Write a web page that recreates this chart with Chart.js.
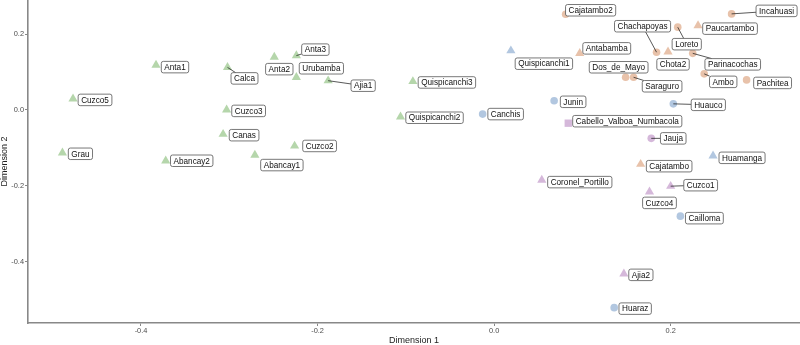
<!DOCTYPE html>
<html><head><meta charset="utf-8">
<script src="https://cdn.jsdelivr.net/npm/chart.js@4"></script>
<style>html,body{margin:0;padding:0;background:#fff}#wrap{width:800px;height:345px;position:relative}</style>
</head><body><div id="wrap"><canvas id="c"></canvas></div>
<script>
// ---- data ----
const sites = ["Cuzco5","Grau","Anta1","Calca","Cuzco3","Canas","Abancay2","Abancay1","Anta2","Anta3","Urubamba","Ajia1","Quispicanchi3","Quispicanchi2","Cuzco2",
  "Canchis","Quispicanchi1","Junin","Huauco","Huamanga","Cailloma","Huaraz",
  "Cabello_Valboa_Numbacola","Jauja","Coronel_Portillo","Cuzco4","Cuzco1","Ajia2",
  "Cajatambo2","Incahuasi","Paucartambo","Loreto","Chachapoyas","Chota2","Antabamba","Parinacochas","Dos_de_Mayo","Saraguro","Ambo","Pachitea","Cajatambo"];
const dim1 = [-0.477,-0.489,-0.383,-0.302,-0.303,-0.307,-0.372,-0.271,-0.249,-0.224,-0.224,-0.188,-0.092,-0.106,-0.226,
  -0.013,0.019,0.068,0.203,0.248,0.211,0.136,
  0.084,0.178,0.054,0.176,0.200,0.147,
  0.081,0.269,0.231,0.208,0.184,0.197,0.097,0.225,0.149,0.158,0.238,0.286,0.166];
const dim2 = [0.029,-0.113,0.118,0.112,0.000,-0.064,-0.134,-0.119,0.139,0.143,0.086,0.077,0.075,-0.018,-0.095,
  -0.011,0.156,0.024,0.016,-0.121,-0.280,-0.521,
  -0.035,-0.075,-0.185,-0.216,-0.201,-0.432,
  0.252,0.253,0.222,0.218,0.152,0.153,0.149,0.149,0.086,0.086,0.095,0.079,-0.143];
const groups = ["G1","G1","G1","G1","G1","G1","G1","G1","G1","G1","G1","G1","G1","G1","G1",
  "G2","G2","G2","G2","G2","G2","G2",
  "G3","G3","G3","G3","G3","G3",
  "G4","G4","G4","G4","G4","G4","G4","G4","G4","G4","G4","G4","G4"];
const shapes = ["triangle","triangle","triangle","triangle","triangle","triangle","triangle","triangle","triangle","triangle","triangle","triangle","triangle","triangle","triangle",
  "circle","triangle","circle","circle","triangle","circle","circle",
  "square","circle","triangle","triangle","triangle","triangle",
  "circle","circle","triangle","circle","circle","triangle","triangle","circle","circle","circle","circle","circle","triangle"];
const xTicks = [-0.4,-0.2,0.0,0.2];
const yTicks = [-0.4,-0.2,0.0,0.2];
const xTitle = "Dimension 1";
const yTitle = "Dimension 2";

// ---- style / layout ----
const groupColor = {G1:"#b5d6ab", G2:"#b2c7e0", G3:"#d5b8da", G4:"#e8c2aa"};
const shapeStyle = {triangle:["triangle",5.3], circle:["circle",3.8], square:["rect",5.2]};
// label box offsets (px) relative to point
const labelOffset = {
  Cuzco5:[22,1], Grau:[18,1], Anta1:[19,2], Calca:[17,11], Cuzco3:[22,1], Canas:[21,1], Abancay2:[26,0], Abancay1:[27,10],
  Anta2:[5,12], Anta3:[19,-6], Urubamba:[25,-9], Ajia1:[35,5], Quispicanchi3:[34,1], Quispicanchi2:[34,1], Cuzco2:[25,0],
  Canchis:[23,0], Quispicanchi1:[33,13], Junin:[19,1], Huauco:[35,1], Huamanga:[29,2], Cailloma:[24,2], Huaraz:[21,1],
  Cabello_Valboa_Numbacola:[59,-2], Jauja:[22,0], Coronel_Portillo:[38,2], Cuzco4:[10,11], Cuzco1:[30,-1], Ajia2:[17,1],
  Cajatambo2:[25,-4], Incahuasi:[45,-3], Paucartambo:[32,3], Loreto:[9,17], Chachapoyas:[-14,-26], Chota2:[5,12.5],
  Antabamba:[27,-5], Parinacochas:[40,11], Dos_de_Mayo:[-7,-10], Saraguro:[28.5,9], Ambo:[19,8], Pachitea:[26,3], Cajatambo:[28.5,2]
};
const leaders = new Set(["Calca","Anta3","Ajia1","Huauco","Jauja","Cuzco1","Incahuasi","Loreto","Chachapoyas","Parinacochas","Saraguro","Ambo"]);

const groupOrder = ["G1","G2","G3","G4"];
const datasets = groupOrder.map(g => {
  const idx = sites.map((s,i)=>i).filter(i=>groups[i]===g);
  return {
    label: g,
    data: idx.map(i=>({x:dim1[i], y:dim2[i], name:sites[i]})),
    pointStyle: idx.map(i=>shapeStyle[shapes[i]][0]),
    pointRadius: idx.map(i=>shapeStyle[shapes[i]][1]),
    backgroundColor: groupColor[g],
    borderWidth: 0,
    pointBorderWidth: 0
  };
});

const labelPlugin = {
  id: "repelLabels",
  afterDatasetsDraw(chart) {
    const ctx = chart.ctx, xs = chart.scales.x, ys = chart.scales.y;
    ctx.save();
    ctx.font = '8.2px "Liberation Sans", Arial, sans-serif';
    const boxes = sites.map((name,i) => {
      const px = xs.getPixelForValue(dim1[i]), py = ys.getPixelForValue(dim2[i]);
      const off = labelOffset[name] || [20,0];
      const cx = px + off[0], cy = py + off[1];
      const w = ctx.measureText(name).width + 6, h = 11.5;
      return {name, px, py, cx, cy, w, h};
    });
    // leaders
    ctx.strokeStyle = "#111"; ctx.lineWidth = 0.7;
    boxes.forEach(b => {
      if (!leaders.has(b.name)) return;
      const dx = b.px - b.cx, dy = b.py - b.cy;
      const t = Math.min(dx ? (b.w/2)/Math.abs(dx) : Infinity, dy ? (b.h/2)/Math.abs(dy) : Infinity);
      const ex = b.cx + dx*t, ey = b.cy + dy*t;
      ctx.beginPath(); ctx.moveTo(b.px, b.py); ctx.lineTo(ex, ey); ctx.stroke();
    });
    // boxes
    boxes.forEach(b => {
      const x0 = b.cx - b.w/2, y0 = b.cy - b.h/2;
      ctx.beginPath();
      ctx.roundRect(x0, y0, b.w, b.h, 2);
      ctx.fillStyle = "#fff"; ctx.fill();
      ctx.strokeStyle = "#555"; ctx.lineWidth = 0.8; ctx.stroke();
      ctx.fillStyle = "#111"; ctx.textAlign = "center"; ctx.textBaseline = "middle";
      ctx.fillText(b.name, b.cx, b.cy + 0.5);
    });
    ctx.restore();
  }
};

const tickFmt = v => (Math.abs(v) < 1e-9 ? "0.0" : v.toFixed(1));

new Chart(document.getElementById("c"), {
  type: "scatter",
  data: { datasets },
  options: {
    responsive: true, maintainAspectRatio: false, animation: false,
    layout: { padding: 0, autoPadding: false },
    plugins: { legend: { display: false }, tooltip: { enabled: false } },
    scales: {
      x: {
        type: "linear", min: -0.528, max: 0.3465,
        afterBuildTicks: s => { s.ticks = xTicks.map(v=>({value:v})); },
        afterFit: s => { s.height = 22; s.paddingLeft = 0; s.paddingRight = 0; },
        grid: { drawOnChartArea: false, drawTicks: true, tickLength: 3, color: "#888", lineWidth: 1 },
        border: { display: true, color: "#888", width: 1.6 },
        ticks: { callback: tickFmt, font: { size: 7.4, family: '"Liberation Sans", Arial, sans-serif' }, color: "#4d4d4d", padding: 1, maxRotation: 0 },
        title: { display: true, text: xTitle, font: { size: 9, family: '"Liberation Sans", Arial, sans-serif', lineHeight: 1 }, color: "#222", padding: { top: 0, bottom: -0.5 } }
      },
      y: {
        type: "linear", min: -0.5615, max: 0.2896,
        afterBuildTicks: s => { s.ticks = yTicks.map(v=>({value:v})); },
        afterFit: s => { s.width = 28; s.paddingTop = 0; s.paddingBottom = 0; },
        grid: { drawOnChartArea: false, drawTicks: true, tickLength: 3, color: "#888", lineWidth: 1 },
        border: { display: true, color: "#888", width: 1.6 },
        ticks: { callback: tickFmt, font: { size: 7.4, family: '"Liberation Sans", Arial, sans-serif' }, color: "#4d4d4d", padding: 1 },
        title: { display: true, text: yTitle, font: { size: 9, family: '"Liberation Sans", Arial, sans-serif', lineHeight: 1 }, color: "#222", padding: { top: 0.5, bottom: 0 } }
      }
    }
  },
  plugins: [labelPlugin]
});
</script></body></html>
